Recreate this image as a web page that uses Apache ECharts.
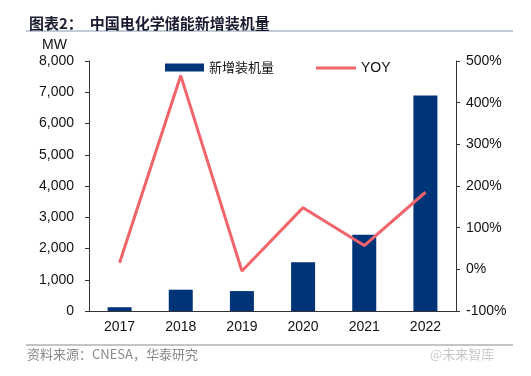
<!DOCTYPE html>
<html>
<head>
<meta charset="utf-8">
<script src="https://cdn.jsdelivr.net/npm/echarts@6/dist/echarts.min.js"></script>
<style>
  html, body { margin: 0; padding: 0; background: #fff; }
  #chart { width: 531px; height: 376px; }
</style>
</head>
<body>
<div id="chart"></div>
<script>
const years = ["2017", "2018", "2019", "2020", "2021", "2022"];
const newCapacity = [121, 682, 637, 1560, 2440, 6900]; // MW
const yoy = [16, 465, -4, 148, 57, 185]; // %
const leftTicks = { min: 0, max: 8000, interval: 1000 };
const rightTicks = { min: -100, max: 500, interval: 100 };

const chart = echarts.init(document.getElementById("chart"));
const axisColor = "#333";
const labelFont = "Liberation Sans, Arial, sans-serif";

const option = {
  animation: false,
  title: {
    text: "图表2：  中国电化学储能新增装机量",
    left: 24,
    top: 11,
    textStyle: { fontSize: 15, fontWeight: "bold", color: "#1a1a30", fontFamily: "Noto Sans CJK SC" },
  },
  legend: [
    {
      top: 56,
      left: 160,
      itemWidth: 39,
      itemHeight: 8,
      data: [{ name: "新增装机量", icon: "rect" }],
      textStyle: { color: "#111", fontFamily: "Noto Sans CJK SC", fontSize: 13 },
    },
    {
      top: 56,
      left: 311,
      itemWidth: 40,
      itemHeight: 3,
      data: [{ name: "YOY", icon: "rect" }],
      textStyle: { color: "#111", fontFamily: labelFont, fontSize: 14 },
    },
  ],
  grid: { left: 89, right: 75, top: 61, bottom: 65 },
  xAxis: {
    type: "category",
    data: years,
    axisLine: { lineStyle: { color: axisColor } },
    axisTick: { length: 4, lineStyle: { color: axisColor } },
    axisLabel: { color: "#111", fontSize: 14, fontFamily: labelFont, margin: 9 },
  },
  yAxis: [
    {
      type: "value",
      min: leftTicks.min,
      max: leftTicks.max,
      interval: leftTicks.interval,
      axisLine: { show: true, lineStyle: { color: axisColor } },
      axisTick: { show: true, length: 4, lineStyle: { color: axisColor } },
      splitLine: { show: false },
      axisLabel: {
        color: "#111",
        fontSize: 14,
        fontFamily: labelFont,
        margin: 15,
        formatter: (v) => v.toLocaleString("en-US"),
      },
    },
    {
      type: "value",
      min: rightTicks.min,
      max: rightTicks.max,
      interval: rightTicks.interval,
      axisLine: { show: true, lineStyle: { color: axisColor } },
      axisTick: { show: true, length: 4, lineStyle: { color: axisColor } },
      splitLine: { show: false },
      axisLabel: { color: "#111", fontSize: 14, fontFamily: labelFont, margin: 10, formatter: "{value}%" },
    },
  ],
  series: [
    {
      name: "新增装机量",
      type: "bar",
      data: newCapacity,
      barWidth: 24,
      itemStyle: { color: "#003478" },
    },
    {
      name: "YOY",
      type: "line",
      yAxisIndex: 1,
      data: yoy,
      symbol: "none",
      lineStyle: { color: "#f0646a", width: 3 },
      itemStyle: { color: "#f0646a" },
    },
  ],
  graphic: [
    { type: "text", left: 42, top: 38, style: { text: "MW", fontSize: 14, fontFamily: labelFont, fill: "#111" } },
    { type: "line", shape: { x1: 26, y1: 31, x2: 513, y2: 31 }, style: { stroke: "#8395ab", lineWidth: 1 } },
    { type: "line", shape: { x1: 26, y1: 345, x2: 513, y2: 345 }, style: { stroke: "#8a8a8a", lineWidth: 1 } },
    {
      type: "text",
      left: 27,
      top: 348,
      style: { text: "资料来源：CNESA，华泰研究", fontSize: 13, fontFamily: "Noto Sans CJK SC", fill: "#8a8a8a" },
    },
    {
      type: "text",
      left: 430,
      top: 348,
      style: { text: "@未来智库", fontSize: 13, fontFamily: "Noto Sans CJK SC", fill: "#c8c8c8" },
    },
  ],
};
chart.setOption(option);
</script>
</body>
</html>
